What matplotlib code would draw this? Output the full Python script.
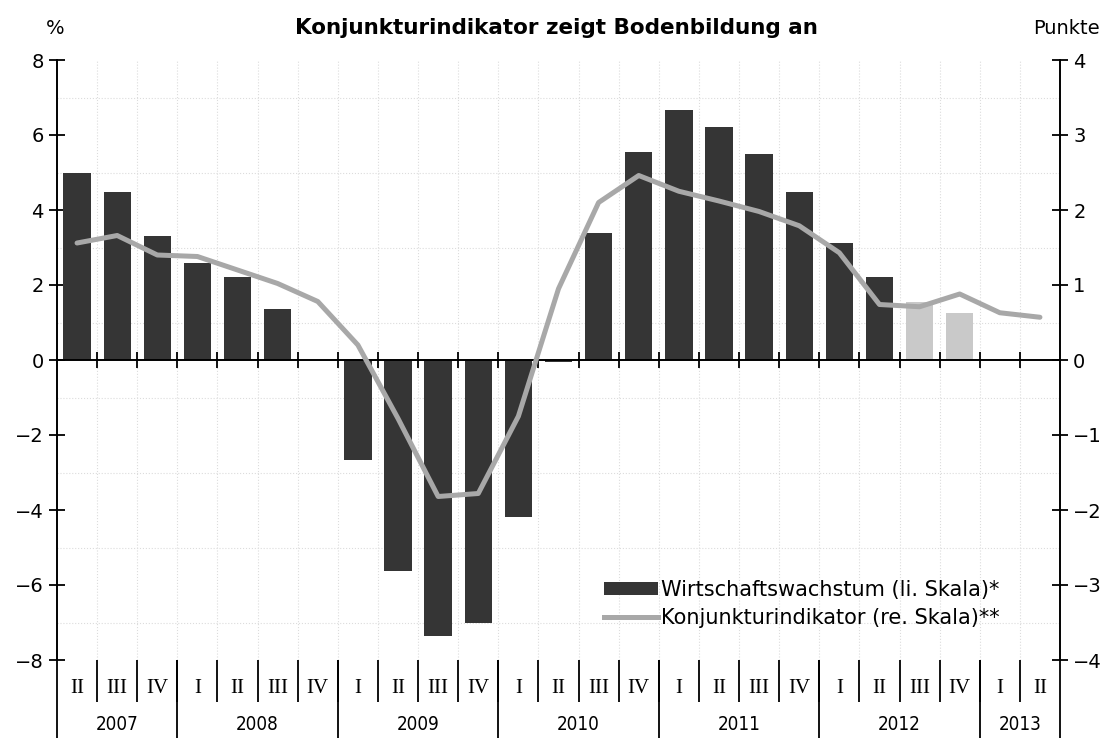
import numpy as np
import matplotlib
matplotlib.use('Agg')
import matplotlib.pyplot as plt
from matplotlib.lines import Line2D
from matplotlib.patches import Patch

# quarters 2007 II .. 2013 II
quarters = ['II', 'III', 'IV',
            'I', 'II', 'III', 'IV',
            'I', 'II', 'III', 'IV',
            'I', 'II', 'III', 'IV',
            'I', 'II', 'III', 'IV',
            'I', 'II', 'III', 'IV',
            'I', 'II']
years = ['2007', '2008', '2009', '2010', '2011', '2012', '2013']
quarters_per_year = [3, 4, 4, 4, 4, 4, 2]

# Wirtschaftswachstum in % (left scale), 2007 II .. 2012 IV; last two are forecasts
growth = [5.0, 4.49, 3.30, 2.6, 2.22, 1.35, 0.0,
          -2.67, -5.63, -7.36, -7.0, -4.19, -0.05,
          3.4, 5.54, 6.67, 6.22, 5.49, 4.48, 3.13, 2.21,
          1.54, 1.25]
n_forecast = 2

# Konjunkturindikator in Punkten (right scale), 2007 II .. 2013 II
indicator = [1.56, 1.66, 1.40, 1.38, 1.2, 1.02, 0.78,
             0.2, -0.78, -1.82, -1.78, -0.75, 0.95,
             2.1, 2.46, 2.25, 2.12, 1.98, 1.79, 1.43, 0.74,
             0.71, 0.88, 0.63, 0.57]

x = np.arange(len(quarters))
dark = '#353535'
light_bar = '#c9c9c9'
line_col = '#a8a8a8'

fig = plt.figure(figsize=(11.02, 7.38), dpi=100)
ax = fig.add_axes([57 / 1102, 78 / 738, 1003 / 1102, 600 / 738])
ax2 = ax.twinx()

bar_colors = [dark] * (len(growth) - n_forecast) + [light_bar] * n_forecast
ax.bar(x[:len(growth)], growth, width=0.68, color=bar_colors, zorder=2)
ax2.plot(x, indicator, color=line_col, lw=3.6, solid_joinstyle='round',
         solid_capstyle='round', zorder=3)

ax.set_xlim(-0.5, len(quarters) - 0.5)
ax.set_ylim(-8, 8)
ax2.set_ylim(-4, 4)
ax.set_yticks(range(-8, 9, 2))
ax2.set_yticks(range(-4, 5))

# zero line acts as x axis with quarter boundary ticks
boundaries = x[:-1] + 0.5
ax.spines['bottom'].set_position(('data', 0))
ax.spines['top'].set_visible(False)
ax.spines['right'].set_visible(False)
for s in ['top', 'bottom', 'left']:
    ax2.spines[s].set_visible(False)
for sp in [ax.spines['left'], ax.spines['bottom'], ax2.spines['right']]:
    sp.set_linewidth(1.4)
ax.set_xticks(boundaries)
ax.set_xticklabels([])
ax.tick_params(axis='x', direction='inout', length=11, width=1.3)
ax.tick_params(axis='y', direction='inout', length=11, width=1.3, labelsize=14, pad=4)
ax2.tick_params(axis='y', direction='inout', length=11, width=1.3, labelsize=14, pad=4)

# faint dotted grid
ax.set_yticks(range(-8, 9), minor=True)
ax.tick_params(which='minor', length=0)
ax.set_axisbelow(True)
ax.grid(which='minor', axis='y', color='#dcdcdc', ls=':', lw=0.8)
ax.grid(which='major', axis='x', color='#dcdcdc', ls=':', lw=0.8)

# category axis below the plot
xt = ax.get_xaxis_transform()
ax.vlines(boundaries, -0.07, 0, transform=xt, color='black', lw=1.3, clip_on=False)
edges = np.concatenate([[0], np.cumsum(quarters_per_year)]) - 0.5
ax.vlines(edges, -0.13, 0, transform=xt, color='black', lw=1.3, clip_on=False)
for xi, q in zip(x, quarters):
    ax.text(xi, -0.047, q, transform=xt, ha='center', va='center',
            fontsize=15, family='Liberation Serif')
for i, yr in enumerate(years):
    ax.text((edges[i] + edges[i + 1]) / 2, -0.107, yr, transform=xt,
            ha='center', va='center', fontsize=13.5, fontstretch='condensed')

# titles
ty = 1 - 28 / 738
fig.text(0.505, ty, 'Konjunkturindikator zeigt Bodenbildung an', ha='center',
         va='center', fontsize=15.5, fontweight='bold')
fig.text(55 / 1102, ty, '%', ha='center', va='center', fontsize=14)
fig.text(1100 / 1102, ty, 'Punkte', ha='right', va='center', fontsize=14)

handles = [Patch(facecolor=dark), Line2D([], [], color=line_col, lw=3.6)]
labels = ['Wirtschaftswachstum (li. Skala)*', 'Konjunkturindikator (re. Skala)**']
ax2.legend(handles, labels, loc='upper left', bbox_to_anchor=(604 / 1102, 1 - 580 / 738),
           bbox_transform=fig.transFigure, frameon=False, fontsize=15,
           handlelength=2.6, handleheight=0.6, handletextpad=0.15, labelspacing=0.4,
           borderpad=0, borderaxespad=0)

fig.savefig('out.png', dpi=100)
